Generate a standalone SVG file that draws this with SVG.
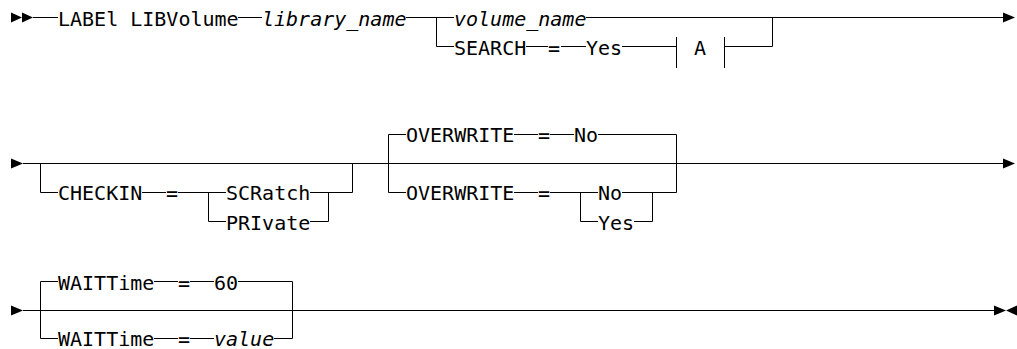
<svg xmlns="http://www.w3.org/2000/svg" width="1017" height="349" viewBox="0 0 1017 349">
<style>
text{font-family:"DejaVu Sans Mono","Liberation Mono",monospace;font-size:20px;fill:#000}
.v{font-style:italic}
.ln{fill:none;stroke:#000;stroke-width:1}
.ar{fill:#000;stroke:none}
</style>
<rect width="1017" height="349" fill="#fff"/>
<g id="connectors">
<!-- row 1 -->
<polygon class="ar" points="11,12.5 22,17.5 11,22.5"/>
<polygon class="ar" points="22,12.5 33,17.5 22,22.5"/>
<path class="ln" d="M33,17.5H58M238,17.5H262M406,17.5H454M586,17.5H1003"/>
<polygon class="ar" points="1003,12.5 1015,17.5 1003,22.5"/>
<path class="ln" d="M436.5,17.5V46.5H454M526,46.5H548M561,46.5H586M622,46.5H676.5M676.5,37V68M724.5,37V68M724.5,46.5H772.5V17.5"/>
<!-- row 2 -->
<polygon class="ar" points="11,158.5 23,163.5 11,168.5"/>
<path class="ln" d="M23,163.5H1003"/>
<polygon class="ar" points="1003,158.5 1015,163.5 1003,168.5"/>
<path class="ln" d="M40.5,163.5V192.5H58M142,192.5H166M178,192.5H226M208.5,192.5V221.5H226M310,192.5H352.5V163.5M310,221.5H328.5V192.5"/>
<path class="ln" d="M406,134.5H388.5V192.5H406M514,134.5H538M550,134.5H574M598,134.5H676.5V192.5M514,192.5H538M550,192.5H598M580.5,192.5V221.5H598M622,192.5H676.5M634,221.5H652.5V192.5"/>
<!-- row 3 -->
<polygon class="ar" points="11,305.5 23,310.5 11,315.5"/>
<path class="ln" d="M23,310.5H994"/>
<polygon class="ar" points="994,305.5 1006,310.5 994,315.5"/>
<polygon class="ar" points="1017,305.5 1006,310.5 1017,315.5"/>
<path class="ln" d="M58,281.5H40.5V338.5H58M154,281.5H178M190,281.5H214M238,281.5H292.5V338.5M154,338.5H178M190,338.5H214M274,338.5H292.5"/>
</g>
<g id="n_label"><text x="58" y="26">LABEl LIBVolume</text></g>
<g id="n_library_name"><text class="v" x="262" y="26">library_name</text></g>
<g id="n_volume_name"><text class="v" x="454" y="26">volume_name</text></g>
<g id="n_search"><text x="454" y="55">SEARCH</text><text x="548" y="55">=</text><text x="586" y="55">Yes</text></g>
<g id="n_a"><text x="694" y="55">A</text></g>
<g id="n_checkin"><text x="58" y="200">CHECKIN</text><text x="166" y="200">=</text></g>
<g id="n_scratch"><text x="226" y="200">SCRatch</text></g>
<g id="n_private"><text x="226" y="230">PRIvate</text></g>
<g id="n_overwrite_default"><text x="406" y="142">OVERWRITE</text><text x="538" y="142">=</text><text x="574" y="142">No</text></g>
<g id="n_overwrite"><text x="406" y="200">OVERWRITE</text><text x="538" y="200">=</text></g>
<g id="n_no"><text x="598" y="200">No</text></g>
<g id="n_yes"><text x="598" y="230">Yes</text></g>
<g id="n_waittime_default"><text x="58" y="290">WAITTime</text><text x="178" y="290">=</text><text x="214" y="290">60</text></g>
<g id="n_waittime"><text x="58" y="346">WAITTime</text><text x="178" y="346">=</text><text class="v" x="214" y="346">value</text></g>
</svg>
